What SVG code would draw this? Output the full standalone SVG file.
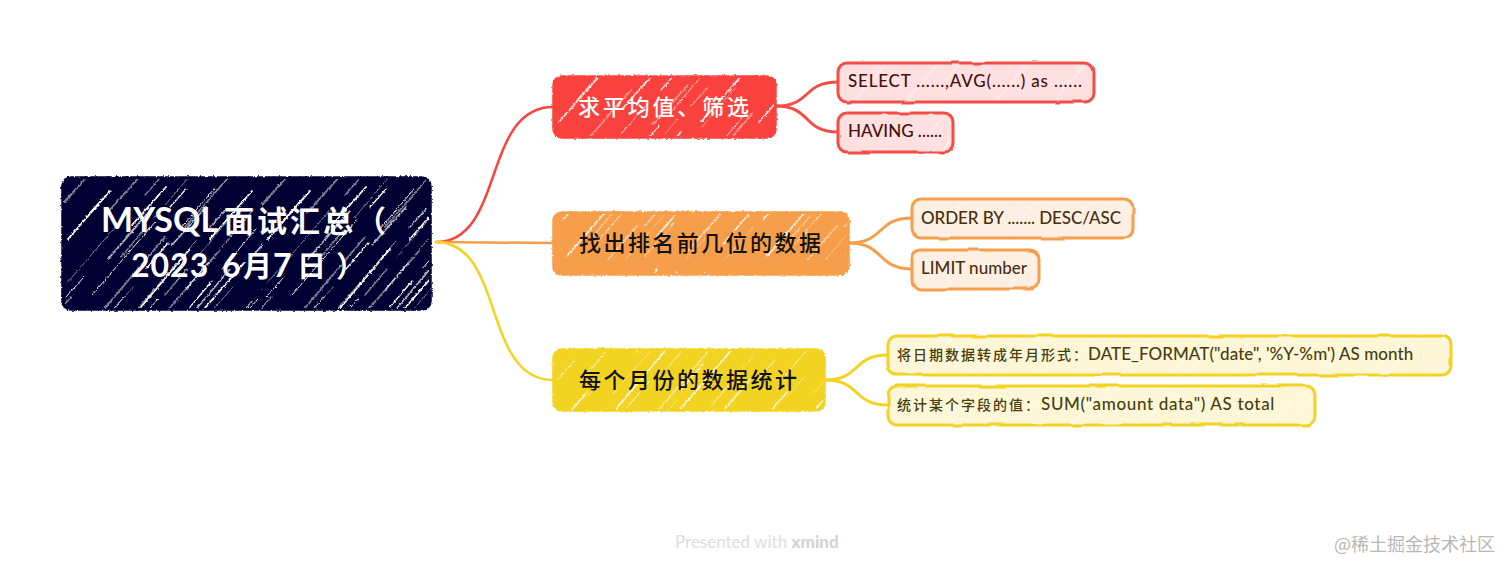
<svg xmlns="http://www.w3.org/2000/svg" width="1512" height="572" viewBox="0 0 1512 572">
<style>
text{font-family:"Lato","Noto Sans CJK SC","Noto Sans",sans-serif;white-space:pre}
.cjk{font-family:"Noto Sans CJK SC","Noto Sans",sans-serif}
.conn{fill:none;stroke-width:2.5;stroke-linecap:round}
.branch{fill:none;stroke-width:3;stroke-linecap:round}
.hl{stroke:#fff;fill:none;stroke-linecap:round}
.t0{font-weight:700;fill:#fff}
.t1{font-size:22px;font-weight:500}
.t2{font-size:17px;font-weight:500}
.sub{stroke-width:3}
.main{stroke-width:1.5}
</style>
<defs>
<filter id="rough" x="-3%" y="-5%" width="106%" height="110%"><feTurbulence type="fractalNoise" baseFrequency="0.38" numOctaves="2" seed="4"/><feDisplacementMap in="SourceGraphic" scale="3" xChannelSelector="R" yChannelSelector="G"/></filter>
<filter id="wob" x="-3%" y="-8%" width="106%" height="116%"><feTurbulence type="fractalNoise" baseFrequency="0.03" numOctaves="2" seed="9"/><feDisplacementMap in="SourceGraphic" scale="3" xChannelSelector="R" yChannelSelector="G"/></filter>
<g id="lines" class="hl">
<path stroke-width="1.8" d="M6 62L48 14M62 150L128 72M14 196L54 150M104 176L182 86M148 62L190 14M70 48L104 10"/>
<path stroke-width=".9" d="M30 118L94 44M118 52L152 12M4 120L22 100M136 190L196 122M42 184L96 122M160 92L194 52M92 196L122 162"/>
<path stroke-width="1.2" d="M84 92L106 66M24 40L44 18M128 130L150 104M170 184L196 154M10 160L34 132M108 30L124 12"/>
</g>
<pattern id="hDark" width="200" height="200" patternUnits="userSpaceOnUse" patternTransform="translate(62 177)"><use href="#lines"/><use href="#lines" transform="translate(40 20)" opacity=".7"/><use href="#lines" transform="translate(-25 -12)" opacity=".5"/></pattern>
<pattern id="hMain" width="200" height="200" patternUnits="userSpaceOnUse" patternTransform="translate(553 60)"><use href="#lines" opacity=".85"/><use href="#lines" transform="translate(30 16)" opacity=".45"/></pattern>
<pattern id="hSub" width="200" height="200" patternUnits="userSpaceOnUse" patternTransform="translate(838 50)"><use href="#lines" opacity=".4"/></pattern>
</defs>
<rect width="1512" height="572" fill="#fff"/>
<g id="connectors">
<path class="conn" stroke="#f9433d" d="M436 242C505 242 482 107 553 107"/>
<path class="conn" stroke="#f69e4a" d="M436 242L553 243"/>
<path class="conn" stroke="#f2d322" d="M436 242C505 242 482 380 553 380"/>
<path class="branch" stroke="#f44d47" d="M776 106C812 106 802 82 838 82"/>
<path class="branch" stroke="#f44d47" d="M776 106C812 106 802 132 838 132"/>
<path class="branch" stroke="#f69e4a" d="M849 243C885 243 876 218 912 218"/>
<path class="branch" stroke="#f69e4a" d="M849 243C885 243 876 269 912 269"/>
<path class="branch" stroke="#f2d322" d="M825 380C861 380 852 355 888 355"/>
<path class="branch" stroke="#f2d322" d="M825 380C861 380 852 405 888 405"/>
</g>
<g id="root">
<g filter="url(#rough)"><rect x="62" y="177" width="369" height="133" rx="9" fill="#060531" stroke="#060531" stroke-width="1.5"/><rect x="64" y="179" width="365" height="129" rx="8" fill="url(#hDark)"/></g>
<text class="t0" y="232"><tspan x="101" font-size="34">MYSQL</tspan><tspan class="cjk" x="224" font-size="30" letter-spacing="3">面试汇总</tspan><tspan class="cjk" x="356" font-size="30">（</tspan></text>
<text class="t0" y="277" font-size="32"><tspan x="131" letter-spacing="1">2023</tspan><tspan x="222">6</tspan><tspan class="cjk" x="243" font-size="29">月</tspan><tspan x="273">7</tspan><tspan class="cjk" x="297" font-size="29">日</tspan><tspan class="cjk" x="336" font-size="29">）</tspan></text>
</g>
<g id="main-red">
<g filter="url(#rough)"><rect x="553" y="76" width="223" height="62" rx="9" fill="#f9433d" stroke="#f9433d" class="main"/><rect x="555" y="78" width="219" height="58" rx="8" fill="url(#hMain)"/></g>
<text class="t1 cjk" x="578" y="115" fill="#fff" textLength="171">求平均值、筛选</text>
</g>
<g id="main-orange">
<g filter="url(#rough)"><rect x="553" y="212" width="296" height="63" rx="9" fill="#f69e4a" stroke="#f69e4a" class="main"/><rect x="555" y="214" width="292" height="59" rx="8" fill="url(#hMain)"/></g>
<text class="t1 cjk" x="579" y="251" fill="#111" textLength="242">找出排名前几位的数据</text>
</g>
<g id="main-yellow">
<g filter="url(#rough)"><rect x="553" y="349" width="272" height="62" rx="9" fill="#f2d322" stroke="#f2d322" class="main"/><rect x="555" y="351" width="268" height="58" rx="8" fill="url(#hMain)"/></g>
<text class="t1 cjk" x="579" y="388" fill="#111" textLength="218">每个月份的数据统计</text>
</g>
<g id="sub-select">
<g filter="url(#wob)"><rect x="838" y="63" width="256" height="39" rx="9" fill="#fde0df" stroke="#f44d47" class="sub"/><rect x="840" y="65" width="252" height="35" rx="8" fill="url(#hSub)"/></g>
<text class="t2" x="848" y="87" fill="#47100e" textLength="234">SELECT ......,AVG(......) as ......</text>
</g>
<g id="sub-having">
<g filter="url(#wob)"><rect x="838" y="113" width="115" height="39" rx="9" fill="#fde0df" stroke="#f44d47" class="sub"/><rect x="840" y="115" width="111" height="35" rx="8" fill="url(#hSub)"/></g>
<text class="t2" x="848" y="137" fill="#47100e" textLength="94">HAVING ......</text>
</g>
<g id="sub-order">
<g filter="url(#wob)"><rect x="912" y="199" width="221" height="39" rx="9" fill="#fdefe2" stroke="#f69e4a" class="sub"/><rect x="914" y="201" width="217" height="35" rx="8" fill="url(#hSub)"/></g>
<text class="t2" x="921" y="224" fill="#47300e" textLength="200">ORDER BY ....... DESC/ASC</text>
</g>
<g id="sub-limit">
<g filter="url(#wob)"><rect x="912" y="250" width="127" height="39" rx="9" fill="#fdefe2" stroke="#f69e4a" class="sub"/><rect x="914" y="252" width="123" height="35" rx="8" fill="url(#hSub)"/></g>
<text class="t2" x="921" y="274" fill="#47300e" textLength="106">LIMIT number</text>
</g>
<g id="sub-date">
<g filter="url(#wob)"><rect x="888" y="336" width="563" height="39" rx="9" fill="#fdf7d8" stroke="#f2d322" class="sub"/><rect x="890" y="338" width="559" height="35" rx="8" fill="url(#hSub)"/></g>
<text class="t2" y="360" fill="#473f0e"><tspan class="cjk" x="897" font-size="14" letter-spacing="2">将日期数据转成年月形式：</tspan><tspan x="1088" letter-spacing=".05">DATE_FORMAT("date", '%Y-%m') AS month</tspan></text>
</g>
<g id="sub-sum">
<g filter="url(#wob)"><rect x="888" y="386" width="427" height="39" rx="9" fill="#fdf7d8" stroke="#f2d322" class="sub"/><rect x="890" y="388" width="423" height="35" rx="8" fill="url(#hSub)"/></g>
<text class="t2" y="410" fill="#473f0e"><tspan class="cjk" x="897" font-size="14" letter-spacing="2">统计某个字段的值：</tspan><tspan x="1041" letter-spacing=".65">SUM("amount data") AS total</tspan></text>
</g>
<text x="675" y="548" font-size="17" fill="#dedede">Presented with <tspan font-weight="900" fill="#d4d4d4">xmind</tspan></text>
<text class="cjk" x="1334" y="551" font-size="18" fill="#b8b8b8">@稀土掘金技术社区</text>
</svg>
